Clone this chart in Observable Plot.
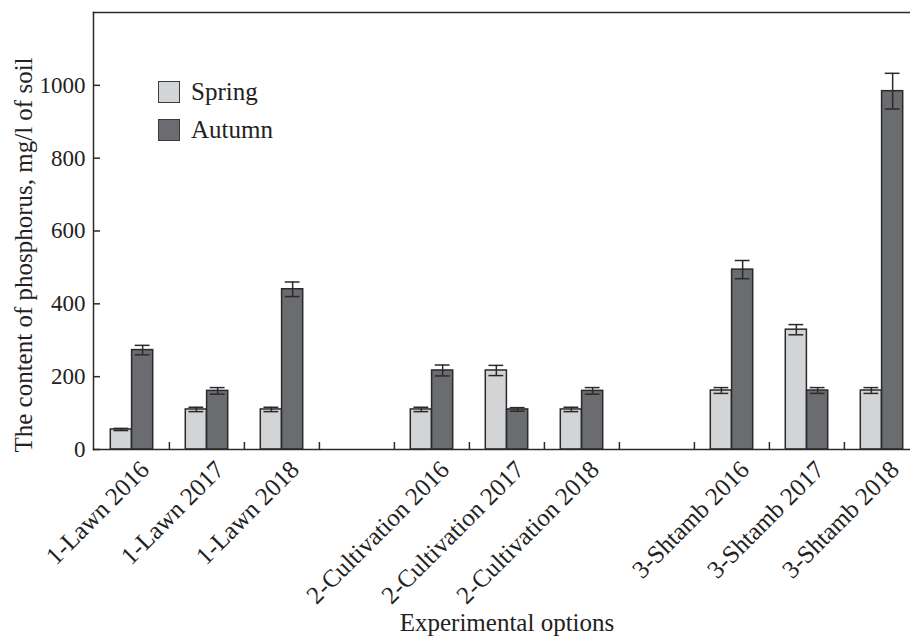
<!DOCTYPE html>
<html>
<head>
<meta charset="utf-8">
<script src="https://cdn.jsdelivr.net/npm/d3@7"></script>
<script src="https://cdn.jsdelivr.net/npm/@observablehq/plot@0.6"></script>
<style>
  html, body { margin: 0; padding: 0; background: #fff; overflow: hidden; }
  #wrap { position: relative; width: 910px; height: 639px; }
  .legend { position: absolute; left: 158px; font-family: "Liberation Serif", serif; font-size: 25px; color: #222; display: flex; align-items: center; }
  .legend .sw { width: 20px; height: 20px; border: 1.5px solid #3a3a3a; margin-right: 11px; }
</style>
</head>
<body>
<div id="wrap"></div>
<script>
// ---- data ----
const slots = ["1-Lawn 2016", "1-Lawn 2017", "1-Lawn 2018", "gap-1",
  "2-Cultivation 2016", "2-Cultivation 2017", "2-Cultivation 2018", "gap-2",
  "3-Shtamb 2016", "3-Shtamb 2017", "3-Shtamb 2018"];
const options = ["1-Lawn 2016", "1-Lawn 2017", "1-Lawn 2018",
  "2-Cultivation 2016", "2-Cultivation 2017", "2-Cultivation 2018",
  "3-Shtamb 2016", "3-Shtamb 2017", "3-Shtamb 2018"];
const seasons = ["Spring", "Autumn"];
const springValues = [55, 110, 110, 110, 217, 110, 162, 329, 162];
const springErrors = [3, 6, 6, 6, 14, 6, 8, 14, 8];
const autumnValues = [273, 161, 440, 217, 110, 161, 494, 162, 984];
const autumnErrors = [13, 9, 20, 15, 5, 9, 25, 8, 49];
const yTicks = [0, 200, 400, 600, 800, 1000];
const yMax = 1200;
const colors = ["#d3d4d6", "#6b6c70"];

const spring = options.map((o, i) => ({option: o, value: springValues[i], err: springErrors[i]}));
const autumn = options.map((o, i) => ({option: o, value: autumnValues[i], err: autumnErrors[i]}));

// ---- layout ----
const W = 910, H = 639, ML = 93, MR = -10, MT = 12, MB = 190;
const step = (W - ML - MR) / slots.length;
const barW = 21.3;
const pad = step / 2 - barW;
const capHalf = 7.5;
const ink = "#2a2a2a";
const tickLen = 7 * yMax / (H - MT - MB);

const chart = Plot.plot({
  width: W, height: H,
  marginLeft: ML, marginRight: MR, marginTop: MT, marginBottom: MB,
  style: {fontFamily: "'Liberation Serif', serif", fontSize: "25px", color: "#222", background: "#fff", overflow: "visible"},
  x: {domain: slots, padding: 0, axis: null},
  y: {domain: [0, yMax], axis: null},
  marks: [
    Plot.barY(spring, {x: "option", y: "value", fill: colors[0], stroke: ink, strokeWidth: 1.5, insetLeft: pad, insetRight: step - pad - barW}),
    Plot.barY(autumn, {x: "option", y: "value", fill: colors[1], stroke: ink, strokeWidth: 1.5, insetLeft: pad + barW, insetRight: pad}),
    Plot.ruleX(spring, {x: "option", y1: d => d.value - d.err, y2: d => d.value + d.err, dx: -barW / 2, stroke: ink, strokeWidth: 1.5}),
    Plot.ruleX(autumn, {x: "option", y1: d => d.value - d.err, y2: d => d.value + d.err, dx: barW / 2, stroke: ink, strokeWidth: 1.5}),
    Plot.tickY(spring, {x: "option", y: d => d.value + d.err, stroke: ink, strokeWidth: 1.5, insetLeft: step / 2 - barW / 2 - capHalf, insetRight: step / 2 + barW / 2 - capHalf}),
    Plot.tickY(spring, {x: "option", y: d => d.value - d.err, stroke: ink, strokeWidth: 1.5, insetLeft: step / 2 - barW / 2 - capHalf, insetRight: step / 2 + barW / 2 - capHalf}),
    Plot.tickY(autumn, {x: "option", y: d => d.value + d.err, stroke: ink, strokeWidth: 1.5, insetLeft: step / 2 + barW / 2 - capHalf, insetRight: step / 2 - barW / 2 - capHalf}),
    Plot.tickY(autumn, {x: "option", y: d => d.value - d.err, stroke: ink, strokeWidth: 1.5, insetLeft: step / 2 + barW / 2 - capHalf, insetRight: step / 2 - barW / 2 - capHalf}),
    // slot boundary ticks on the baseline
    Plot.ruleX(slots.slice(1), {x: d => d, y1: 0, y2: tickLen, dx: -step / 2, stroke: ink, strokeWidth: 1.5}),
    Plot.frame({anchor: "left", stroke: ink, strokeWidth: 1.5}),
    Plot.frame({anchor: "top", stroke: ink, strokeWidth: 1.5}),
    Plot.frame({anchor: "bottom", stroke: ink, strokeWidth: 1.5}),
    Plot.axisY(yTicks, {anchor: "left", tickSize: -7, tickPadding: 15, tickFormat: d => String(d), stroke: ink, strokeWidth: 1.5, fontSize: 23, label: null}),
    Plot.axisX(options, {anchor: "bottom", tickSize: 0, tickRotate: -45, tickPadding: 10, dx: 13, dy: 6, fontSize: 25, label: null}),
    Plot.text(["Experimental options"], {frameAnchor: "bottom", dy: 173, lineAnchor: "middle", textAnchor: "middle", fontSize: 25, fill: "#222"}),
    Plot.text(["The content of phosphorus, mg/l of soil"], {frameAnchor: "left", dx: -70, dy: 24, rotate: -90, lineAnchor: "middle", textAnchor: "middle", fontSize: 25, fill: "#222"})
  ]
});

const wrap = document.getElementById("wrap");
wrap.appendChild(chart);
seasons.forEach((s, i) => {
  const div = document.createElement("div");
  div.className = "legend";
  div.style.top = (80 + i * 38) + "px";
  div.style.height = "23px";
  div.innerHTML = `<span class="sw" style="background:${colors[i]}"></span><span>${s}</span>`;
  wrap.appendChild(div);
});
</script>
</body>
</html>
